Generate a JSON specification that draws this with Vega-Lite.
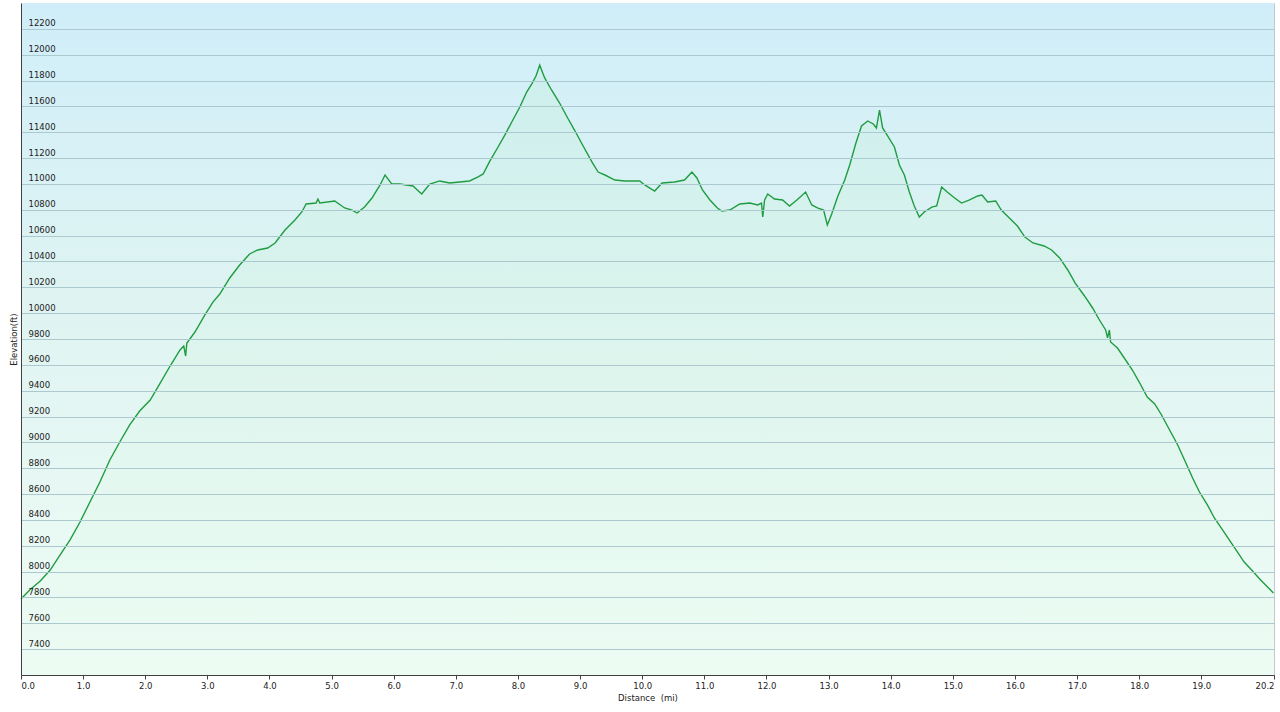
{
  "$schema": "https://vega.github.io/schema/vega-lite/v6.json",
  "width": 1253,
  "height": 672,
  "autosize": {"type": "none"},
  "padding": {"left": 21, "top": 3, "right": 6, "bottom": 37},
  "background": "#ffffff",
  "config": {
    "view": {"stroke": "#c4c8cc", "strokeWidth": 1},
    "font": "DejaVu Sans"
  },
  "datasets": {
    "profile": [
      {"d": 0, "e": 7788}, {"d": 0.14, "e": 7858}, {"d": 0.31, "e": 7927}, {"d": 0.47, "e": 8012},
      {"d": 0.63, "e": 8129}, {"d": 0.79, "e": 8245}, {"d": 0.95, "e": 8384}, {"d": 1.11, "e": 8539},
      {"d": 1.27, "e": 8693}, {"d": 1.43, "e": 8864}, {"d": 1.59, "e": 9003}, {"d": 1.75, "e": 9135},
      {"d": 1.91, "e": 9243}, {"d": 2.08, "e": 9328}, {"d": 2.24, "e": 9459}, {"d": 2.4, "e": 9591},
      {"d": 2.56, "e": 9715}, {"d": 2.62, "e": 9746}, {"d": 2.65, "e": 9668}, {"d": 2.67, "e": 9769},
      {"d": 2.8, "e": 9854}, {"d": 2.96, "e": 9986}, {"d": 3.09, "e": 10086}, {"d": 3.2, "e": 10148},
      {"d": 3.36, "e": 10272}, {"d": 3.52, "e": 10373}, {"d": 3.68, "e": 10458}, {"d": 3.81, "e": 10489},
      {"d": 3.97, "e": 10504}, {"d": 4.09, "e": 10543}, {"d": 4.25, "e": 10643}, {"d": 4.41, "e": 10721},
      {"d": 4.52, "e": 10783}, {"d": 4.59, "e": 10845}, {"d": 4.75, "e": 10852}, {"d": 4.78, "e": 10883},
      {"d": 4.81, "e": 10852}, {"d": 5.05, "e": 10868}, {"d": 5.21, "e": 10814}, {"d": 5.33, "e": 10798},
      {"d": 5.41, "e": 10775}, {"d": 5.53, "e": 10821}, {"d": 5.65, "e": 10891}, {"d": 5.78, "e": 10992},
      {"d": 5.86, "e": 11069}, {"d": 5.97, "e": 10999}, {"d": 6.1, "e": 10999}, {"d": 6.31, "e": 10984},
      {"d": 6.45, "e": 10922}, {"d": 6.58, "e": 10999}, {"d": 6.74, "e": 11023}, {"d": 6.9, "e": 11007},
      {"d": 7.06, "e": 11015}, {"d": 7.22, "e": 11023}, {"d": 7.35, "e": 11053}, {"d": 7.44, "e": 11077},
      {"d": 7.54, "e": 11170}, {"d": 7.67, "e": 11278}, {"d": 7.79, "e": 11379}, {"d": 7.9, "e": 11479},
      {"d": 8.03, "e": 11595}, {"d": 8.14, "e": 11711}, {"d": 8.22, "e": 11773}, {"d": 8.29, "e": 11835},
      {"d": 8.35, "e": 11920}, {"d": 8.38, "e": 11881}, {"d": 8.43, "e": 11820}, {"d": 8.54, "e": 11727},
      {"d": 8.67, "e": 11626}, {"d": 8.8, "e": 11510}, {"d": 8.91, "e": 11417}, {"d": 9.04, "e": 11301},
      {"d": 9.19, "e": 11170}, {"d": 9.29, "e": 11092}, {"d": 9.4, "e": 11069}, {"d": 9.56, "e": 11030},
      {"d": 9.72, "e": 11023}, {"d": 9.96, "e": 11023}, {"d": 10.04, "e": 10992}, {"d": 10.2, "e": 10945},
      {"d": 10.32, "e": 11007}, {"d": 10.52, "e": 11015}, {"d": 10.68, "e": 11030}, {"d": 10.8, "e": 11092},
      {"d": 10.88, "e": 11046}, {"d": 10.97, "e": 10953}, {"d": 11.09, "e": 10876}, {"d": 11.21, "e": 10814},
      {"d": 11.28, "e": 10790}, {"d": 11.41, "e": 10798}, {"d": 11.57, "e": 10845}, {"d": 11.73, "e": 10852},
      {"d": 11.86, "e": 10837}, {"d": 11.92, "e": 10852}, {"d": 11.94, "e": 10744}, {"d": 11.97, "e": 10876},
      {"d": 12.02, "e": 10922}, {"d": 12.13, "e": 10883}, {"d": 12.26, "e": 10876}, {"d": 12.37, "e": 10829},
      {"d": 12.49, "e": 10876}, {"d": 12.63, "e": 10937}, {"d": 12.73, "e": 10837}, {"d": 12.82, "e": 10814},
      {"d": 12.92, "e": 10798}, {"d": 12.98, "e": 10682}, {"d": 13.05, "e": 10767}, {"d": 13.15, "e": 10907},
      {"d": 13.26, "e": 11030}, {"d": 13.34, "e": 11146}, {"d": 13.44, "e": 11317}, {"d": 13.53, "e": 11448},
      {"d": 13.63, "e": 11487}, {"d": 13.72, "e": 11464}, {"d": 13.77, "e": 11433}, {"d": 13.82, "e": 11572},
      {"d": 13.87, "e": 11433}, {"d": 13.95, "e": 11371}, {"d": 14.06, "e": 11286}, {"d": 14.14, "e": 11146},
      {"d": 14.22, "e": 11069}, {"d": 14.3, "e": 10937}, {"d": 14.38, "e": 10829}, {"d": 14.46, "e": 10744},
      {"d": 14.54, "e": 10783}, {"d": 14.66, "e": 10821}, {"d": 14.74, "e": 10829}, {"d": 14.82, "e": 10976},
      {"d": 14.91, "e": 10937}, {"d": 15.03, "e": 10891}, {"d": 15.14, "e": 10852}, {"d": 15.27, "e": 10876},
      {"d": 15.4, "e": 10907}, {"d": 15.47, "e": 10914}, {"d": 15.56, "e": 10860}, {"d": 15.69, "e": 10868},
      {"d": 15.78, "e": 10798}, {"d": 15.91, "e": 10736}, {"d": 16.04, "e": 10674}, {"d": 16.16, "e": 10589},
      {"d": 16.29, "e": 10543}, {"d": 16.47, "e": 10520}, {"d": 16.59, "e": 10489}, {"d": 16.72, "e": 10427},
      {"d": 16.85, "e": 10334}, {"d": 16.97, "e": 10233}, {"d": 17.12, "e": 10133}, {"d": 17.25, "e": 10040},
      {"d": 17.36, "e": 9947}, {"d": 17.46, "e": 9870}, {"d": 17.49, "e": 9808}, {"d": 17.52, "e": 9870},
      {"d": 17.54, "e": 9777}, {"d": 17.65, "e": 9730}, {"d": 17.76, "e": 9653}, {"d": 17.89, "e": 9560},
      {"d": 18.0, "e": 9467}, {"d": 18.13, "e": 9351}, {"d": 18.25, "e": 9297}, {"d": 18.36, "e": 9212},
      {"d": 18.49, "e": 9096}, {"d": 18.62, "e": 8980}, {"d": 18.73, "e": 8864}, {"d": 18.86, "e": 8724},
      {"d": 18.97, "e": 8616}, {"d": 19.1, "e": 8515}, {"d": 19.21, "e": 8415}, {"d": 19.32, "e": 8338},
      {"d": 19.45, "e": 8245}, {"d": 19.58, "e": 8152}, {"d": 19.69, "e": 8074}, {"d": 19.81, "e": 8012},
      {"d": 19.94, "e": 7943}, {"d": 20.05, "e": 7889}, {"d": 20.16, "e": 7835}
    ]
  },
  "layer": [
    {
      "data": {"values": [{"bg": 1}]},
      "mark": {
        "type": "rect",
        "color": {
          "gradient": "linear",
          "x1": 0, "y1": 0, "x2": 0, "y2": 1,
          "stops": [
            {"offset": 0, "color": "#d0eef9"},
            {"offset": 0.45, "color": "#dff4f2"},
            {"offset": 1, "color": "#effcf5"}
          ]
        }
      },
      "encoding": {
        "x": {"datum": 0, "type": "quantitative", "scale": {"domain": [0, 20.17], "nice": false, "zero": false}},
        "x2": {"datum": 20.17},
        "y": {"datum": 7200, "type": "quantitative", "scale": {"domain": [7200, 12400], "nice": false, "zero": false}},
        "y2": {"datum": 12400}
      }
    },
    {
      "data": {"name": "profile"},
      "mark": {
        "type": "area",
        "color": {
          "gradient": "linear",
          "x1": 0, "y1": 0, "x2": 0, "y2": 1,
          "stops": [
            {"offset": 0, "color": "#c0eed6"},
            {"offset": 1, "color": "#e8fbef"}
          ]
        },
        "opacity": 0.3
      },
      "encoding": {
        "x": {"field": "d", "type": "quantitative"},
        "y": {"field": "e", "type": "quantitative"},
        "y2": {"datum": 7200}
      }
    },
    {
      "data": {"name": "profile"},
      "mark": {"type": "line", "color": "#1f9c40", "strokeWidth": 1.4},
      "encoding": {
        "x": {
          "field": "d",
          "type": "quantitative",
          "axis": {
            "title": "Distance\u00a0 (mi)",
            "values": [0, 1, 2, 3, 4, 5, 6, 7, 8, 9, 10, 11, 12, 13, 14, 15, 16, 17, 18, 19, 20.17],
            "tickCount": 40,
            "format": ".1f",
            "grid": false,
            "zindex": 1,
            "labelOverlap": false,
            "domainColor": "#404040",
            "domainWidth": 1,
            "tickColor": "#404040",
            "tickSize": 4,
            "labelFlush": true,
            "labelFlushOffset": 0,
            "labelPadding": 2,
            "labelFont": "DejaVu Sans",
            "labelFontSize": 8.5,
            "labelColor": "#222222",
            "titleFont": "DejaVu Sans",
            "titleFontSize": 8.5,
            "titleFontWeight": "normal",
            "titleColor": "#222222",
            "titlePadding": 4
          }
        },
        "y": {
          "field": "e",
          "type": "quantitative",
          "axis": {
            "title": "Elevation(ft)",
            "values": [7400, 7600, 7800, 8000, 8200, 8400, 8600, 8800, 9000, 9200, 9400, 9600, 9800, 10000, 10200, 10400, 10600, 10800, 11000, 11200, 11400, 11600, 11800, 12000, 12200],
            "tickCount": 40,
            "format": "d",
            "grid": true,
            "zindex": 1,
            "labelOverlap": false,
            "gridColor": "#abc9ce",
            "gridWidth": 1,
            "ticks": false,
            "tickSize": 0,
            "domainColor": "#404040",
            "domainWidth": 1,
            "labelAlign": "left",
            "labelBaseline": "alphabetic",
            "labelPadding": -7,
            "labelOffset": -3,
            "labelFlush": false,
            "labelFont": "DejaVu Sans",
            "labelFontSize": 8.5,
            "labelColor": "#222222",
            "titleFont": "DejaVu Sans",
            "titleFontSize": 8.5,
            "titleFontWeight": "normal",
            "titleColor": "#222222",
            "titleX": -8,
            "titleBaseline": "middle"
          }
        }
      }
    }
  ]
}
